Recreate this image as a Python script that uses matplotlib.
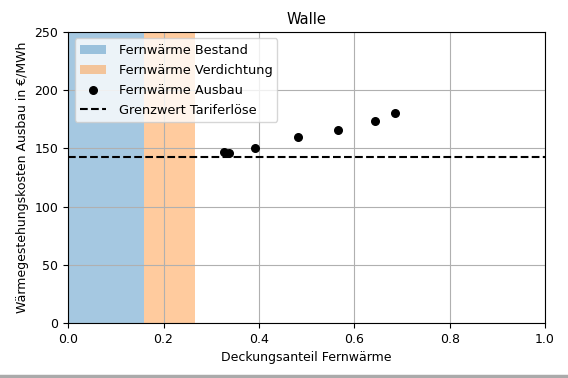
import numpy as np
import matplotlib.pyplot as plt
from matplotlib.lines import Line2D

# Daten
anteil_bestand = 0.158
anteil_verdichtung = 0.266
ausbau_anteil = [0.326, 0.338, 0.391, 0.481, 0.565, 0.644, 0.686]
ausbau_kosten = [147.0, 146.3, 150.5, 159.4, 165.8, 173.6, 180.6]
grenzwert = 142.5

plt.rcParams['font.size'] = 9

fig = plt.figure(figsize=(5.68, 3.78), dpi=100)
ax = fig.add_axes([0.12, 0.1455, 0.8395, 0.77])

ax.axvspan(0, anteil_bestand, color='tab:blue', alpha=0.4, lw=0, label='Fernwärme Bestand')
ax.axvspan(anteil_bestand, anteil_verdichtung, color='tab:orange', alpha=0.4, lw=0,
           label='Fernwärme Verdichtung')
ax.scatter(ausbau_anteil, ausbau_kosten, color='black', s=30, zorder=3, label='Fernwärme Ausbau')
ax.axhline(grenzwert, color='black', ls='--', lw=1.5, label='Grenzwert Tariferlöse')

ax.set_xlim(0, 1)
ax.set_ylim(0, 250)
ax.grid(True)
ax.set_title('Walle', fontsize=10.5)
ax.set_xlabel('Deckungsanteil Fernwärme')
ax.set_ylabel('Wärmegestehungskosten Ausbau in €/MWh')
ax.legend(loc='upper left', fontsize=9.3, handletextpad=1.0, labelspacing=0.55)

# grauer Rand unten (Screenshot-Schatten)
fig.add_artist(Line2D([0, 1], [0.004, 0.004], transform=fig.transFigure,
                      color='#aaaaaa', lw=2.5))

plt.savefig('out.png', dpi=100)
